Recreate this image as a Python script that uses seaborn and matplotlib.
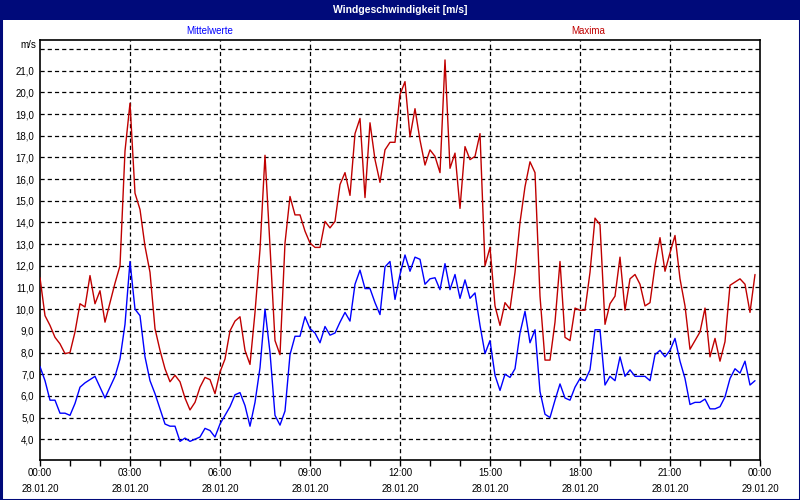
import numpy as np
import pandas as pd
import matplotlib
matplotlib.use("Agg")
import matplotlib.pyplot as plt
import matplotlib.dates as mdates
from matplotlib.patches import Rectangle
from matplotlib.ticker import FixedLocator, FixedFormatter, NullFormatter
import seaborn as sns

# ---------------- data (10-minute values, 28.01.20) ----------------
start_time = "2020-01-28 00:00"
end_time = "2020-01-29 00:00"

mittelwerte = [
    7.35, 6.7, 5.8, 5.8, 5.2, 5.2, 5.1, 5.65, 6.4, 6.6, 6.75, 6.9,
    6.4, 5.9, 6.4, 6.9, 7.7, 9.3, 12.2, 10.0, 9.7, 7.8, 6.7, 6.1,
    5.4, 4.7, 4.6, 4.6, 3.9, 4.05, 3.9, 4.0, 4.1, 4.5, 4.4, 4.1,
    4.7, 5.1, 5.5, 6.05, 6.15, 5.55, 4.6, 5.7, 7.3, 10.0, 8.0, 5.1,
    4.65, 5.3, 7.9, 8.75, 8.75, 9.65, 9.1, 8.9, 8.45, 9.2, 8.8, 8.9,
    9.4, 9.85, 9.45, 11.15, 11.8, 10.95, 10.95, 10.3, 9.75, 11.95, 12.2, 10.45,
    11.6, 12.5, 11.75, 12.4, 12.3, 11.15, 11.4, 11.45, 10.9, 12.1, 10.9, 11.6,
    10.5, 11.35, 10.5, 10.75, 9.25, 7.95, 8.55, 6.95, 6.25, 7.0, 6.85, 7.25,
    8.9, 9.9, 8.45, 9.05, 6.2, 5.15, 5.0, 5.8, 6.55, 5.9, 5.8, 6.4,
    6.8, 6.7, 7.2, 9.05, 9.05, 6.5, 6.9, 6.7, 7.8, 6.9, 7.2, 6.9,
    6.9, 6.9, 6.7, 7.9, 8.1, 7.8, 8.1, 8.65, 7.6, 6.8, 5.6, 5.7,
    5.7, 5.85, 5.4, 5.4, 5.5, 5.95, 6.8, 7.25, 7.05, 7.6, 6.5, 6.7,
]

maxima = [
    11.45, 9.7, 9.25, 8.7, 8.4, 7.95, 8.0, 8.95, 10.25, 10.1, 11.55, 10.25,
    10.85, 9.4, 10.3, 11.2, 12.0, 17.3, 19.5, 15.35, 14.6, 12.9, 11.7, 9.1,
    8.1, 7.25, 6.65, 6.95, 6.65, 5.9, 5.35, 5.7, 6.4, 6.85, 6.75, 6.1,
    7.1, 7.7, 9.0, 9.45, 9.65, 8.1, 7.45, 9.85, 12.75, 17.1, 12.9, 8.55,
    7.9, 13.05, 15.2, 14.35, 14.35, 13.6, 13.05, 12.85, 12.85, 14.05, 13.75, 14.05,
    15.75, 16.3, 15.25, 18.1, 18.8, 15.15, 18.6, 16.9, 15.85, 17.35, 17.7, 17.7,
    19.9, 20.5, 17.95, 19.25, 17.8, 16.65, 17.35, 17.05, 16.3, 21.5, 16.5, 17.2,
    14.65, 17.5, 16.9, 17.05, 18.1, 12.0, 12.85, 10.15, 9.25, 10.3, 10.0, 11.7,
    14.0, 15.65, 16.8, 16.3, 10.6, 7.65, 7.65, 9.4, 12.2, 8.7, 8.55, 10.05,
    9.95, 9.95, 11.7, 14.2, 13.9, 9.3, 10.25, 10.6, 12.4, 9.95, 11.4, 11.6,
    11.15, 10.15, 10.3, 12.0, 13.3, 11.75, 12.6, 13.4, 11.4, 10.15, 8.15, 8.55,
    8.95, 10.05, 7.8, 8.65, 7.6, 8.5, 11.1, 11.25, 11.4, 11.15, 9.85, 11.6,
]

series_names = ["Mittelwerte", "Maxima"]
series_colors = ["#0000ff", "#c00000"]

y_ticks = [4, 5, 6, 7, 8, 9, 10, 11, 12, 13, 14, 15, 16, 17, 18, 19, 20, 21, 22]
y_tick_labels = ["4,0", "5,0", "6,0", "7,0", "8,0", "9,0", "10,0", "11,0", "12,0",
                 "13,0", "14,0", "15,0", "16,0", "17,0", "18,0", "19,0", "20,0",
                 "21,0", ""]
time_labels = ["00:00", "03:00", "06:00", "09:00", "12:00", "15:00", "18:00", "21:00", "00:00"]
date_labels = ["28.01.20"] * 8 + ["29.01.20"]
title = "Windgeschwindigkeit [m/s]"
unit_label = "m/s"

# ---------------- build table ----------------
times = pd.date_range(start_time, periods=len(mittelwerte), freq="10min")
df = pd.DataFrame({
    "time": list(times) * 2,
    "value": mittelwerte + maxima,
    "series": [series_names[0]] * len(mittelwerte) + [series_names[1]] * len(maxima),
})

# ---------------- figure ----------------
sns.set_theme(style="white")
plt.rcParams["font.family"] = ["Liberation Sans", "DejaVu Sans"]
plt.rcParams["lines.scale_dashes"] = False

navy = "#000a7a"
fig = plt.figure(figsize=(8, 5), dpi=100, facecolor="white")
ax = fig.add_axes([40 / 800, 1 - 460 / 500, 720 / 800, 420 / 500])
ax.set_facecolor("white")

sns.lineplot(data=df, x="time", y="value", hue="series",
             palette=dict(zip(series_names, series_colors)),
             linewidth=1.0, legend=False, ax=ax, zorder=3)

t0, t1 = pd.Timestamp(start_time), pd.Timestamp(end_time)
ax.set_xlim(t0, t1)
ax.set_ylim(3.04, 22.42)

# y axis
ax.yaxis.set_major_locator(FixedLocator(y_ticks))
ax.yaxis.set_major_formatter(FixedFormatter(y_tick_labels))
ax.tick_params(axis="y", length=0, pad=4, labelsize=7, labelcolor="black")

# x axis
major_times = pd.date_range(start_time, end_time, freq="3h")
minor_times = pd.date_range(start_time, end_time, freq="1h")
ax.xaxis.set_major_locator(FixedLocator(mdates.date2num(major_times)))
ax.xaxis.set_major_formatter(FixedFormatter([f"{t}\n{d}" for t, d in zip(time_labels, date_labels)]))
ax.xaxis.set_minor_locator(FixedLocator(mdates.date2num(minor_times)))
ax.xaxis.set_minor_formatter(NullFormatter())
ax.tick_params(axis="x", which="both", direction="out", length=4, width=1,
               color="black", bottom=True, pad=2, labelsize=7, labelcolor="black")
for lbl in ax.get_xticklabels():
    lbl.set_linespacing(1.75)

ax.set_xlabel("")
ax.set_ylabel("")

# grid
dash = (0, (3, 2.2))
for yv in y_ticks:
    ax.axhline(yv, color="black", lw=0.9, linestyle=dash, zorder=1)
for tv in major_times[1:-1]:
    ax.axvline(tv, color="black", lw=0.9, linestyle=dash, zorder=1)

for s in ax.spines.values():
    s.set_visible(True)
    s.set_color("black")
    s.set_linewidth(1.2)

# unit label
fig.text(36 / 800, 1 - 45 / 500, unit_label, ha="right", va="center", fontsize=7, color="black")

# series labels
fig.text(210 / 800, 1 - 31 / 500, series_names[0], ha="center", va="center",
         fontsize=7, color=series_colors[0])
fig.text(588 / 800, 1 - 31 / 500, series_names[1], ha="center", va="center",
         fontsize=7, color=series_colors[1])

# title bar and frame
fig.patches.append(Rectangle((0, 1 - 20 / 500), 1, 20 / 500, transform=fig.transFigure,
                             facecolor=navy, edgecolor="none", zorder=0))
fig.patches.append(Rectangle((0.5 / 800, 0.5 / 500), 799 / 800, 499 / 500, transform=fig.transFigure,
                             facecolor="none", edgecolor=navy, linewidth=2.2, zorder=5))
fig.text(0.5, 1 - 10 / 500, title, ha="center", va="center", fontsize=7.5,
         fontweight="bold", color="white")

fig.savefig("out.png", dpi=100, facecolor="white")
